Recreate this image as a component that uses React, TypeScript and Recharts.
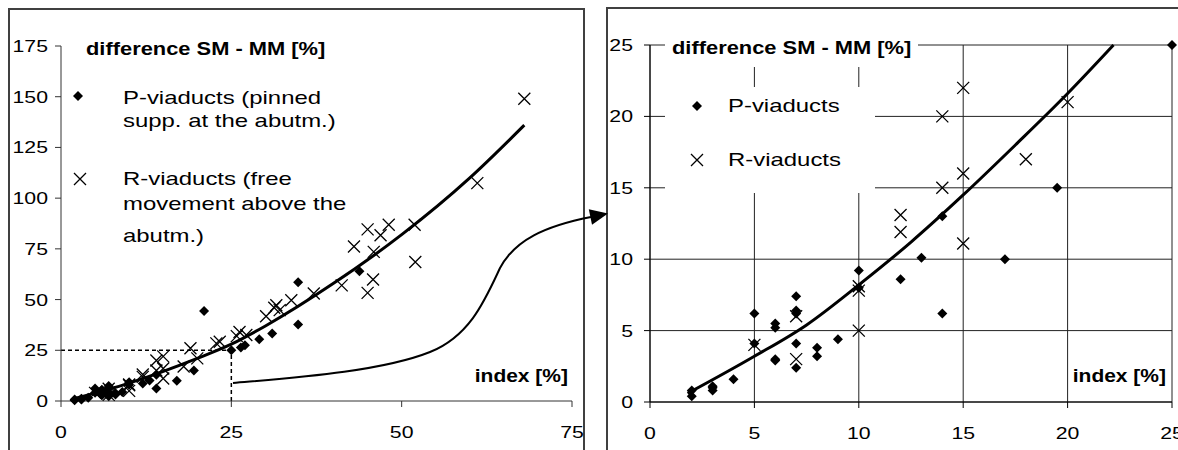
import React from 'react';
import { ComposedChart, Scatter, Line, XAxis, YAxis, CartesianGrid, ReferenceLine } from 'recharts';

// ---- data ----
// P-viaducts (diamonds), small-index region (shown in both charts)
const pIndexLow = [2, 2, 3, 3, 3, 4, 5, 5, 6, 6, 6, 6, 7, 7, 7, 7, 7, 8, 8, 9, 10, 10, 12, 13, 14, 14, 17, 19.5, 25];
const pDiffLow = [0.4, 0.8, 0.8, 1.0, 1.1, 1.6, 6.2, 4.1, 5.5, 5.2, 3.0, 2.9, 7.4, 6.4, 6.2, 4.1, 2.4, 3.8, 3.2, 4.4, 9.2, 8.0, 8.6, 10.1, 6.2, 13.0, 10.0, 15.0, 25.0];
// R-viaducts (crosses), small-index region
const rIndexLow = [5, 7, 7, 10, 10, 10, 12, 12, 14, 14, 15, 15, 15, 18, 20];
const rDiffLow = [4.0, 6.0, 3.0, 8.1, 7.8, 5.0, 11.9, 13.1, 15.0, 20.0, 16.0, 22.0, 11.1, 17.0, 21.0];
// points only visible in the left (full) chart
const pIndexHigh = [21, 26.4, 27, 29.1, 31, 34.8, 34.8, 43.8];
const pDiffHigh = [44.4, 26.4, 27.5, 30.5, 33.3, 58.5, 37.7, 64];
const rIndexHigh = [19, 22.8, 23.3, 25.8, 26.2, 27.2, 30.1, 31.3, 31.6, 32.1, 33.8, 37.1, 41.2, 43, 45, 45, 45.8, 45.9, 46.9, 48.1, 51.9, 52, 61.1, 68];
const rDiffHigh = [26, 28.4, 29.2, 32, 34, 32.5, 41.8, 46, 47.2, 44.8, 49.7, 53, 57, 76.2, 84.6, 53.3, 59.9, 73.5, 81.7, 86.9, 86.9, 68.5, 107.4, 149];
// trend lines
const leftTrendIndex = [2, 10, 20, 25, 30, 40, 50, 60, 68];
const leftTrendDiff = [1.2, 8.8, 21, 28, 37, 58, 82, 110, 136];
const rightTrendIndex = [1.8, 5, 7.5, 10, 12.5, 15, 17.5, 20, 22.2];
const rightTrendDiff = [0.6, 3.2, 5.4, 8.2, 11.2, 14.5, 18, 21.6, 25];
// ticks
const leftXTicks = [0, 25, 50, 75];
const leftYTicks = [0, 25, 50, 75, 100, 125, 150, 175];
const rightXTicks = [0, 5, 10, 15, 20, 25];
const rightYTicks = [0, 5, 10, 15, 20, 25];
// texts
const yTitle = 'difference SM - MM [%]';
const xTitle = 'index [%]';
const leftLegendP = ['P-viaducts (pinned', 'supp. at the abutm.)'];
const leftLegendR = ['R-viaducts (free', 'movement above the', 'abutm.)'];
const rightLegendP = 'P-viaducts';
const rightLegendR = 'R-viaducts';

const zip = (xs: number[], ys: number[]) => xs.map((x, i) => ({ x, y: ys[i] }));

const pLow = zip(pIndexLow, pDiffLow);
const rLow = zip(rIndexLow, rDiffLow);
const pAll = pLow.concat(zip(pIndexHigh, pDiffHigh));
const rAll = rLow.concat(zip(rIndexHigh, rDiffHigh));
const leftTrend = zip(leftTrendIndex, leftTrendDiff);
const rightTrend = zip(rightTrendIndex, rightTrendDiff);

const FONT = '"Liberation Sans", Arial, Helvetica, sans-serif';

function SText(props: any) {
  const { x, y, anchor = 'start', size = 17, sx = 1.25, bold = false, children } = props;
  return (
    <text
      transform={`translate(${x},${y}) scale(${sx},1)`}
      x={0}
      y={0}
      textAnchor={anchor}
      fontFamily={FONT}
      fontSize={size}
      fontWeight={bold ? 'bold' : 'normal'}
      fill="#000"
    >
      {children}
    </text>
  );
}

const Diamond = (props: any) => {
  const { cx, cy } = props;
  if (cx == null || cy == null) return <g />;
  const s = 5;
  return <path d={`M${cx},${cy - s}L${cx + s},${cy}L${cx},${cy + s}L${cx - s},${cy}Z`} fill="#000" />;
};

const Cross = (props: any) => {
  const { cx, cy } = props;
  if (cx == null || cy == null) return <g />;
  const s = 6;
  return (
    <path
      d={`M${cx - s},${cy - s}L${cx + s},${cy + s}M${cx - s},${cy + s}L${cx + s},${cy - s}`}
      stroke="#000"
      strokeWidth={1.3}
      fill="none"
    />
  );
};

const yTick = (p: any) => (
  <SText x={p.x} y={p.y + 6} anchor="end">
    {p.payload.value}
  </SText>
);
const xTick = (p: any) => (
  <SText x={p.x} y={p.y + 29} anchor="middle">
    {p.payload.value}
  </SText>
);

const axisColor = '#333';

function LeftChart() {
  return (
    <ComposedChart width={590} height={450} margin={{ top: 46, right: 18, bottom: 9, left: 6 }}>
      <XAxis
        type="number"
        dataKey="x"
        domain={[0, 75]}
        ticks={leftXTicks}
        interval={0}
        height={40}
        tickSize={6}
        tickMargin={2}
        stroke={axisColor}
        tick={xTick}
      />
      <YAxis
        type="number"
        dataKey="y"
        domain={[0, 175]}
        ticks={leftYTicks}
        interval={0}
        width={55}
        tickSize={6}
        tickMargin={7}
        stroke={axisColor}
        tick={yTick}
      />
      <ReferenceLine
        segment={[{ x: 0, y: 25 }, { x: 25, y: 25 }]}
        stroke="#000"
        strokeWidth={1.5}
        strokeDasharray="4 3"
      />
      <ReferenceLine
        segment={[{ x: 25, y: 0 }, { x: 25, y: 25 }]}
        stroke="#000"
        strokeWidth={1.5}
        strokeDasharray="4 3"
      />
      <Scatter data={pAll} dataKey="y" shape={Diamond} isAnimationActive={false} />
      <Scatter data={rAll} dataKey="y" shape={Cross} isAnimationActive={false} />
      <Line
        data={leftTrend}
        dataKey="y"
        type="monotone"
        stroke="#000"
        strokeWidth={3}
        dot={false}
        activeDot={false}
        isAnimationActive={false}
      />
    </ComposedChart>
  );
}

function RightChart() {
  return (
    <ComposedChart width={578} height={450} margin={{ top: 45, right: 6, bottom: 8, left: 6 }}>
      <CartesianGrid stroke="#222" strokeWidth={1} />
      <XAxis
        type="number"
        dataKey="x"
        domain={[0, 25]}
        ticks={rightXTicks}
        interval={0}
        height={40}
        tickSize={6}
        tickMargin={2}
        stroke="#000"
        tick={xTick}
      />
      <YAxis
        type="number"
        dataKey="y"
        domain={[0, 25]}
        ticks={rightYTicks}
        interval={0}
        width={44}
        tickSize={6}
        tickMargin={11}
        stroke="#000"
        tick={yTick}
      />
      <Scatter data={pLow} dataKey="y" shape={Diamond} isAnimationActive={false} />
      <Scatter data={rLow} dataKey="y" shape={Cross} isAnimationActive={false} />
      <Line
        data={rightTrend}
        dataKey="y"
        type="monotone"
        stroke="#000"
        strokeWidth={3}
        dot={false}
        activeDot={false}
        isAnimationActive={false}
      />
    </ComposedChart>
  );
}

function Overlay() {
  const legendSize = 18;
  const legendSx = 1.33;
  const titleSize = 17.5;
  const titleSx = 1.25;
  return (
    <svg
      width={1178}
      height={450}
      style={{ position: 'absolute', left: 0, top: 0, pointerEvents: 'none' }}
    >
      {/* left chart annotations */}
      <SText x={86} y={55} size={titleSize} sx={titleSx} bold>
        {yTitle}
      </SText>
      <Diamond cx={78} cy={96} />
      <SText x={123} y={104} size={legendSize} sx={legendSx}>
        {leftLegendP[0]}
      </SText>
      <SText x={123} y={127} size={legendSize} sx={legendSx}>
        {leftLegendP[1]}
      </SText>
      <Cross cx={80} cy={179} />
      {leftLegendR.map((t, i) => (
        <SText key={t} x={123} y={[185, 210, 242][i]} size={legendSize} sx={legendSx}>
          {t}
        </SText>
      ))}
      <SText x={568} y={382} size={titleSize} sx={1.2} bold anchor="end">
        {xTitle}
      </SText>

      {/* right chart annotations with white boxes hiding the grid */}
      <rect x={665} y={36} width={253} height={31} fill="#fff" />
      <SText x={672} y={54} size={titleSize} sx={titleSx} bold>
        {yTitle}
      </SText>
      <rect x={665} y={87} width={210} height={106} fill="#fff" />
      <Diamond cx={697} cy={106} />
      <SText x={728} y={112} size={legendSize} sx={legendSx}>
        {rightLegendP}
      </SText>
      <Cross cx={697} cy={160} />
      <SText x={728} y={166} size={legendSize} sx={legendSx}>
        {rightLegendR}
      </SText>
      <SText x={1166} y={382} size={titleSize} sx={1.2} bold anchor="end">
        {xTitle}
      </SText>

      {/* connecting arrow */}
      <path
        d="M233,383 C290,378 380,372 430,352 C470,336 485,300 500,268 C515,240 545,226 591,217"
        stroke="#000"
        strokeWidth={2}
        fill="none"
      />
      <polygon points="608,213.5 588.8,209.2 592,224.8" fill="#000" />
    </svg>
  );
}

export default function App() {
  return (
    <div
      style={{
        position: 'fixed',
        left: 0,
        top: 0,
        width: 1178,
        height: 450,
        overflow: 'hidden',
        background: '#fff',
      }}
    >
      <div
        style={{
          position: 'absolute',
          left: 8,
          top: 8,
          width: 573,
          height: 470,
          border: '2px solid #404040',
        }}
      />
      <div
        style={{
          position: 'absolute',
          left: 606,
          top: 7,
          width: 640,
          height: 470,
          border: '2px solid #404040',
        }}
      />
      <div style={{ position: 'absolute', left: 0, top: 0 }}>
        <LeftChart />
      </div>
      <div style={{ position: 'absolute', left: 600, top: 0 }}>
        <RightChart />
      </div>
      <Overlay />
    </div>
  );
}
